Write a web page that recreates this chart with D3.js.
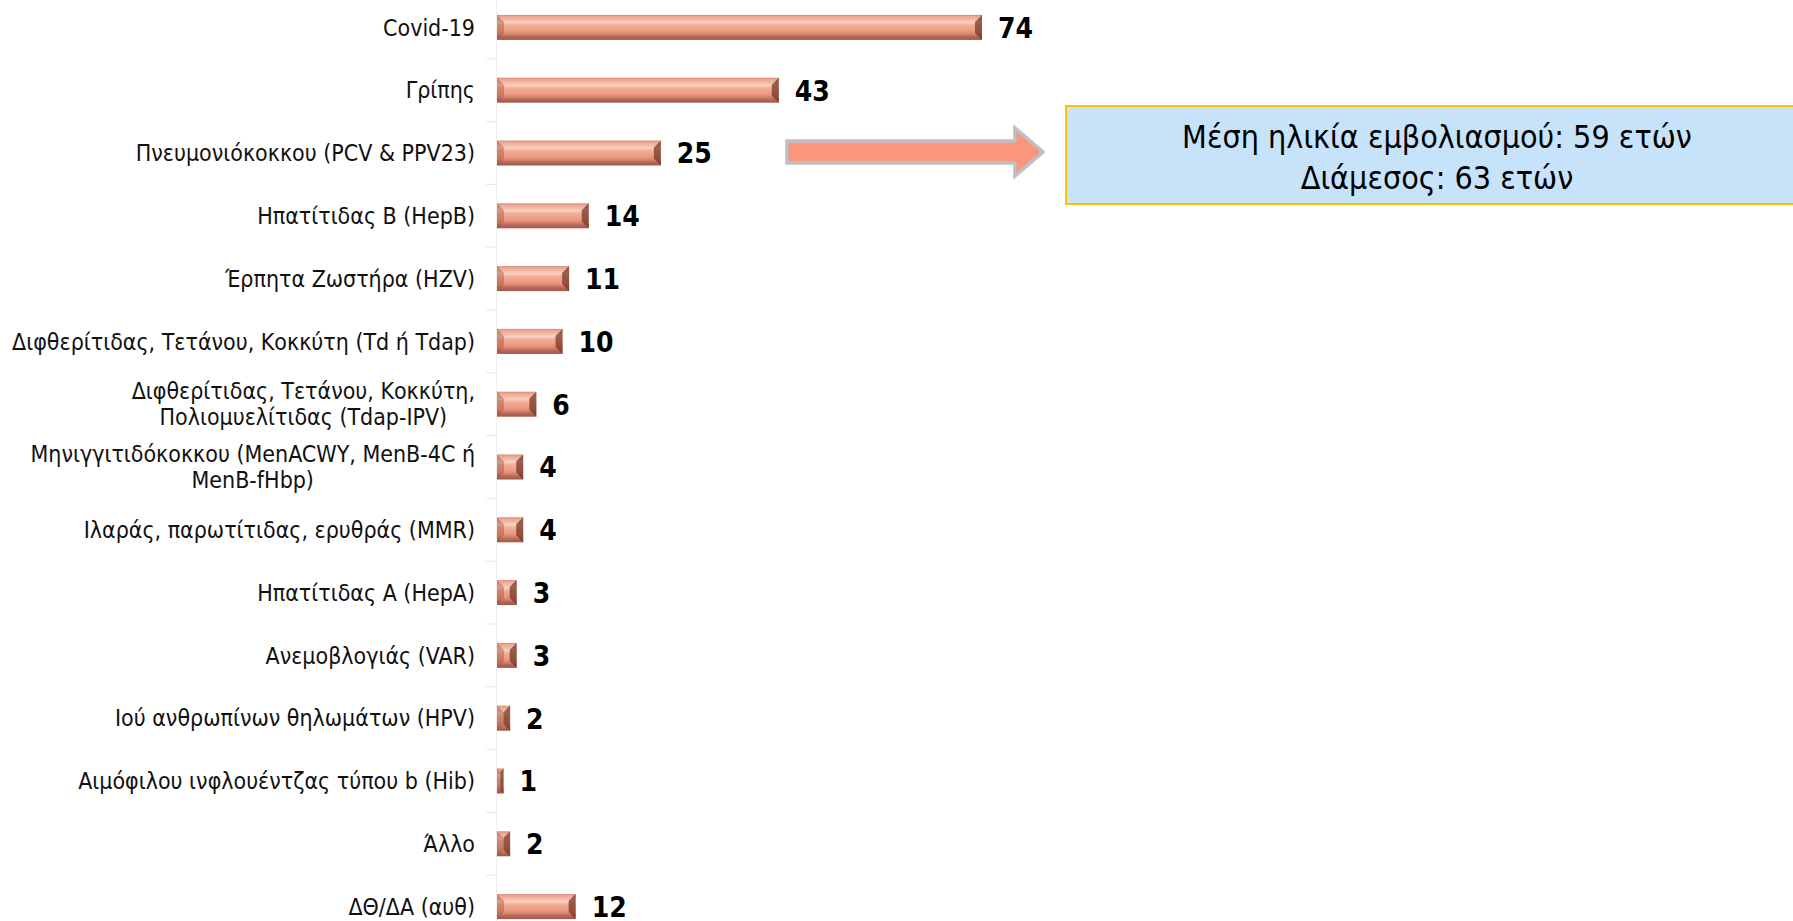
<!DOCTYPE html>
<html>
<head>
<meta charset="utf-8">
<script src="https://cdn.jsdelivr.net/npm/d3@7"></script>
<style>
  html, body { margin: 0; padding: 0; background: #ffffff; }
  svg { display: block; }
  .lbl { font-family: 'DejaVu Sans Condensed', 'DejaVu Sans', sans-serif; font-stretch: condensed; fill: #111; }
  .val { font-family: 'DejaVu Sans Condensed', 'DejaVu Sans', sans-serif; font-stretch: condensed; font-weight: bold; fill: #000; }
</style>
</head>
<body>
<script>
// ---- data ----
const categories = [
  "Covid-19",
  "Γρίπης",
  "Πνευμονιόκοκκου (PCV & PPV23)",
  "Ηπατίτιδας Β (HepB)",
  "Έρπητα Ζωστήρα (HZV)",
  "Διφθερίτιδας, Τετάνου, Κοκκύτη (Td ή Tdap)",
  "Διφθερίτιδας, Τετάνου, Κοκκύτη,\nΠολιομυελίτιδας (Tdap-IPV)",
  "Μηνιγγιτιδόκοκκου (MenACWY, MenB-4C ή\nMenB-fHbp)",
  "Ιλαράς, παρωτίτιδας, ερυθράς  (MMR)",
  "Ηπατίτιδας Α (HepA)",
  "Ανεμοβλογιάς (VAR)",
  "Ιού ανθρωπίνων θηλωμάτων (HPV)",
  "Αιμόφιλου ινφλουέντζας τύπου b (Hib)",
  "Άλλο",
  "ΔΘ/ΔΑ (αυθ)"
];
const values = [74, 43, 25, 14, 11, 10, 6, 4, 4, 3, 3, 2, 1, 2, 12];
const noteLines = ["Μέση ηλικία εμβολιασμού: 59 ετών", "Διάμεσος: 63 ετών"];

// ---- layout ----
const W = 1793, H = 921;
const axisX = 497;
const svg = d3.select("body").append("svg").attr("width", W).attr("height", H);

const x = d3.scaleLinear().domain([0, 74]).range([axisX, 982]);
const y = d3.scaleBand().domain(categories).range([-4, 938])
  .paddingInner(0.602).paddingOuter(0.301);

// gradient (face of the bevelled bar)
const defs = svg.append("defs");
const g = defs.append("linearGradient").attr("id", "barGrad")
  .attr("x1", 0).attr("y1", 0).attr("x2", 0).attr("y2", 1);
[[0, "#D4866E"], [0.06, "#EBA690"], [0.2, "#F5BBA6"], [0.3, "#F9D2C4"], [0.42, "#F3AC95"],
 [0.66, "#EC9880"], [0.76, "#D9866E"], [0.86, "#B8695A"], [1, "#9E5747"]]
  .forEach(([o, c]) => g.append("stop").attr("offset", o).attr("stop-color", c));

// faint axis + ticks
svg.append("line").attr("x1", axisX - 0.5).attr("x2", axisX - 0.5)
  .attr("y1", y.range()[0]).attr("y2", H).attr("stroke", "#EFEFEF").attr("stroke-width", 1);
const step = y.step();
const bounds = categories.map((c) => y(c) - (step - y.bandwidth()) / 2).slice(1);
svg.selectAll(".tk").data(bounds).join("line")
  .attr("x1", axisX - 11).attr("x2", axisX).attr("y1", d => d).attr("y2", d => d)
  .attr("stroke", "#E8E8E8").attr("stroke-width", 1);

// bars
const rows = categories.map((c, i) => ({c, v: values[i]}));
const bars = svg.selectAll(".bar").data(rows).join("g").attr("class", "bar");
bars.each(function(d) {
  const sel = d3.select(this);
  const x0 = x(0), x1 = x(d.v), y0 = y(d.c), y1 = y(d.c) + y.bandwidth();
  const w = x1 - x0;
  const b = Math.min(7, w / 2);
  sel.append("rect").attr("x", x0).attr("y", y0).attr("width", w).attr("height", y1 - y0)
    .attr("fill", "url(#barGrad)");
  sel.append("polygon")
    .attr("points", [[x0, y0], [x0 + b, y0 + b], [x0 + b, y1 - b], [x0, y1]].join(" "))
    .attr("fill", "rgba(165,85,62,0.45)");
  sel.append("polygon")
    .attr("points", [[x1, y0], [x1 - b, y0 + b], [x1 - b, y1 - b], [x1, y1]].join(" "))
    .attr("fill", "rgba(112,52,38,0.72)");
});

// value labels
svg.selectAll(".val").data(rows)
  .join("text").attr("class", "val")
  .attr("x", d => x(d.v) + 16)
  .attr("y", d => y(d.c) + y.bandwidth() / 2)
  .attr("dy", "0.37em")
  .attr("font-size", 28)
  .text(d => d.v);

// category labels (font size fitted to the reference width of the widest single-line label)
const labelRight = 475;
const probe = svg.append("text").attr("class", "lbl").attr("font-size", 20)
  .text(categories[5]);
const pw = probe.node().getComputedTextLength();
probe.remove();
const lfs = 20 * 463 / pw;
const lineH = 26;

categories.forEach(c => {
  const lines = c.split("\n");
  const cy = y(c) + y.bandwidth() / 2;
  if (lines.length === 1) {
    svg.append("text").attr("class", "lbl").attr("font-size", lfs)
      .attr("x", labelRight).attr("y", cy).attr("dy", "0.36em")
      .attr("text-anchor", "end").text(lines[0]);
  } else {
    const tmp = svg.append("text").attr("class", "lbl").attr("font-size", lfs);
    const widths = lines.map(l => { tmp.text(l); return tmp.node().getComputedTextLength(); });
    tmp.remove();
    const maxW = d3.max(widths);
    const cx = labelRight - maxW / 2;
    lines.forEach((l, k) => {
      svg.append("text").attr("class", "lbl").attr("font-size", lfs)
        .attr("x", cx).attr("y", cy + (k - (lines.length - 1) / 2) * lineH)
        .attr("dy", "0.36em").attr("text-anchor", "middle").text(l);
    });
  }
});

// arrow
const ax0 = 787, ax1 = 1043, acy = 152, sh = 11, hh = 24, hx = 1015;
svg.append("polygon")
  .attr("points", [[ax0, acy - sh], [hx, acy - sh], [hx, acy - hh], [ax1, acy],
                   [hx, acy + hh], [hx, acy + sh], [ax0, acy + sh]].join(" "))
  .attr("fill", "#F9967C").attr("stroke", "#BFBFBF").attr("stroke-width", 3.5)
  .attr("stroke-linejoin", "miter");

// note box
const bx = 1066, by = 106, bw = 742, bh = 98;
svg.append("rect").attr("x", bx).attr("y", by).attr("width", bw).attr("height", bh)
  .attr("fill", "#C7E3FA").attr("stroke", "#FFC000").attr("stroke-width", 2);
const probe2 = svg.append("text").attr("class", "lbl").attr("font-size", 26).text(noteLines[0]);
const pw2 = probe2.node().getComputedTextLength();
probe2.remove();
const nfs = 26 * 510 / pw2;
noteLines.forEach((t, k) => {
  svg.append("text").attr("class", "lbl").attr("font-size", nfs)
    .attr("x", bx + bw / 2).attr("y", [136, 177][k]).attr("dy", "0.36em")
    .attr("text-anchor", "middle").style("fill", "#000").text(t);
});
</script>
</body>
</html>
